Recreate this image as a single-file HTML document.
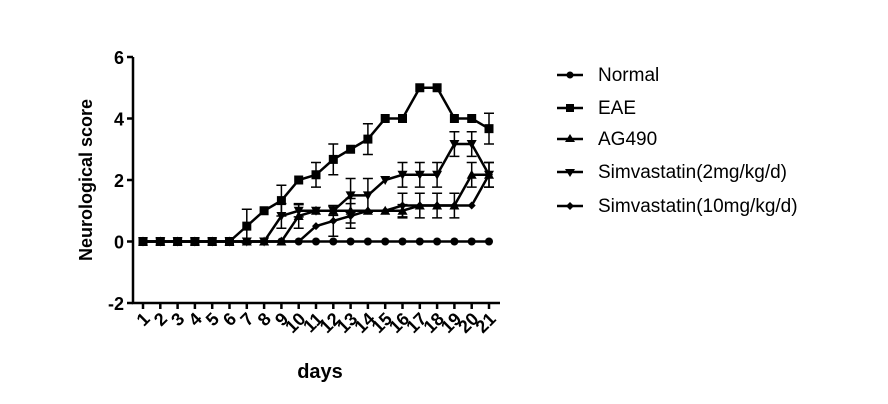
<!DOCTYPE html>
<html><head><style>body{margin:0;background:#fff}svg{display:block}</style></head><body>
<svg width="888" height="404" xmlns="http://www.w3.org/2000/svg" font-family="Liberation Sans, Arial, sans-serif">
<rect width="888" height="404" fill="#fff"/>
<g id="plot"></g>
<text x="92" y="180" transform="rotate(-90 92 180)" text-anchor="middle" font-weight="bold" font-size="18">Neurological score</text>
<text x="320" y="378" text-anchor="middle" font-weight="bold" font-size="20">days</text>
<g font-size="19" fill="#000">
<line x1="557" y1="75" x2="583" y2="75" stroke="#000" stroke-width="2.5"/><circle cx="570" cy="75" r="3.5"/><text x="598" y="81">Normal</text>
<line x1="557" y1="108" x2="583" y2="108" stroke="#000" stroke-width="2.5"/><rect x="566" y="104" width="8" height="8"/><text x="598" y="114">EAE</text>
<line x1="557" y1="139" x2="583" y2="139" stroke="#000" stroke-width="2.5"/><polygon points="570,134 575,142 565,142"/><text x="598" y="145">AG490</text>
<line x1="557" y1="172" x2="583" y2="172" stroke="#000" stroke-width="2.5"/><polygon points="565,169 575,169 570,177"/><text x="598" y="178">Simvastatin(2mg/kg/d)</text>
<line x1="557" y1="206" x2="583" y2="206" stroke="#000" stroke-width="2.5"/><polygon points="570,202 574,206 570,210 566,206"/><text x="598" y="212">Simvastatin(10mg/kg/d)</text>
</g>
</svg>
<script>
const g=document.getElementById('plot');
const X=d=>143+(d-1)*17.3, Y=v=>241.5-v*30.75;
let h='';
h+=`<path d="M133 57V303H500" fill="none" stroke="#000" stroke-width="2.5"/>`;
[6,4,2,0,-2].forEach(v=>{h+=`<line x1="127" x2="133" y1="${Y(v)}" y2="${Y(v)}" stroke="#000" stroke-width="2.5"/><text x="124" y="${Y(v)+7}" text-anchor="end" font-weight="bold" font-size="18">${v}</text>`});
for(let d=1;d<=21;d++){h+=`<line x1="${X(d)}" x2="${X(d)}" y1="303" y2="309" stroke="#000" stroke-width="2.5"/><text transform="translate(${X(d)+8},320) rotate(-45)" text-anchor="end" font-weight="bold" font-size="18">${d}</text>`;}
const S={
n:{v:Array(21).fill(0),e:{},m:'c'},
e:{v:[0,0,0,0,0,0,0.5,1,1.33,2,2.17,2.67,3,3.33,4,4,5,5,4,4,3.67],e:{7:.55,9:.5,11:.4,12:.5,14:.5,21:.5},m:'s'},
a:{v:[0,0,0,0,0,0,0,0,0,0.83,1,1,1,1,1,1,1.17,1.17,1.17,2.17,2.17],e:{10:.4,13:.4,16:.2,17:.4,18:.4,19:.4,20:.4},m:'u'},
s2:{v:[0,0,0,0,0,0,0,0,0.83,1,1,1,1.5,1.5,2,2.17,2.17,2.17,3.17,3.17,2.17],e:{9:.4,10:.2,12:.15,13:.55,14:.55,16:.4,17:.4,18:.4,19:.4,20:.4,21:.4},m:'d'},
s10:{v:[0,0,0,0,0,0,0,0,0,0,0.5,0.67,0.83,1,1,1.17,1.17,1.17,1.17,1.17,2.17],e:{12:.5,13:.4,16:.4,21:.4},m:'r'}};
for(const k in S){const s=S[k];h+=`<polyline fill="none" stroke="#000" stroke-width="2.5" points="${s.v.map((v,i)=>X(i+1)+','+Y(v)).join(' ')}"/>`;
for(const d in s.e){const x=X(+d),v=s.v[d-1],e=s.e[d];h+=`<path d="M${x} ${Y(v+e)}V${Y(v-e)}M${x-5} ${Y(v+e)}h10M${x-5} ${Y(v-e)}h10" stroke="#000" stroke-width="1.5"/>`;}
s.v.forEach((v,i)=>{const x=X(i+1),y=Y(v);
if(s.m=='c')h+=`<circle cx="${x}" cy="${y}" r="4"/>`;
if(s.m=='s')h+=`<rect x="${x-4.5}" y="${y-4.5}" width="9" height="9"/>`;
if(s.m=='u')h+=`<polygon points="${x},${y-5} ${x+5},${y+4} ${x-5},${y+4}"/>`;
if(s.m=='d')h+=`<polygon points="${x-5},${y-4} ${x+5},${y-4} ${x},${y+5}"/>`;
if(s.m=='r')h+=`<polygon points="${x},${y-4} ${x+4},${y} ${x},${y+4} ${x-4},${y}"/>`;});}
g.innerHTML=h;
</script>
</body></html>
